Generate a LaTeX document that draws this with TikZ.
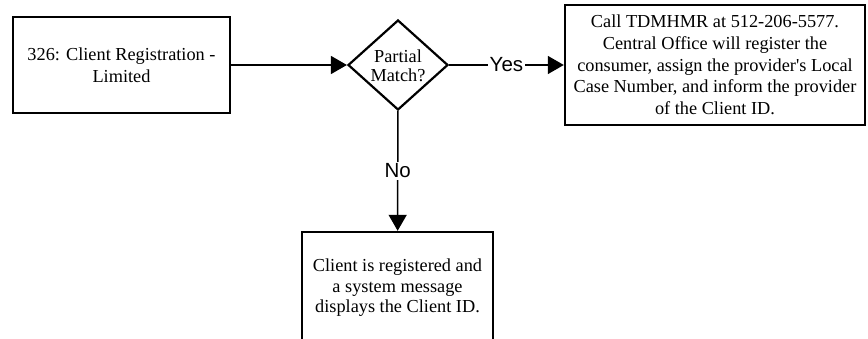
\documentclass[tikz,border=0pt]{standalone}
\usepackage{fontspec}
\setmainfont{Liberation Serif}
\setsansfont{Liberation Sans}
\usetikzlibrary{shapes.geometric,arrows.meta}
\tikzset{
  boxnode/.style={draw, line width=2.4pt, rectangle, align=center, inner sep=0pt,
    font=\fontsize{18.3}{21.7}\selectfont},
  dianode/.style={draw, line width=2.2pt, diamond, inner sep=0pt, minimum width=100pt, minimum height=90pt},
  diatext/.style={align=center, inner sep=0pt, font=\fontsize{18.3}{18.5}\selectfont},
  conn/.style={line width=1.5pt, -{Triangle[length=16pt,width=18pt]}},
  lbl/.style={fill=white, inner sep=1.5pt, font=\sffamily\fontsize{20.5}{22}\selectfont}
}
\begin{document}
\begin{tikzpicture}[x=1pt,y=-1pt]
\useasboundingbox (0,0) rectangle (868,339);
\clip (0,0) rectangle (868,339);
\node[boxnode, minimum width=217pt, minimum height=96pt] (b1) at (121.5,65) {326: Client Registration -\\Limited};
\node[dianode] (d) at (398,65) {};
\node[diatext] (dt) at (398,66) {Partial\\Match?};
\node[boxnode, minimum width=300pt, minimum height=120pt] (b3) at (715,65) {Call TDMHMR at 512-206-5577.\\Central Office will register the\\consumer, assign the provider\textquotesingle s Local\\Case Number, and inform the provider\\of the Client ID.};
\node[boxnode, minimum width=191pt, minimum height=112pt, font=\fontsize{18.3}{20.5}\selectfont] (b4) at (397.5,288) {Client is registered and\\a system message\\displays the Client ID.};
\draw[conn] (b1) -- (d);
\draw[conn] (d) -- node[lbl]{Yes} (b3);
\draw[conn] (d) -- node[lbl]{No} (b4);
\end{tikzpicture}
\end{document}
